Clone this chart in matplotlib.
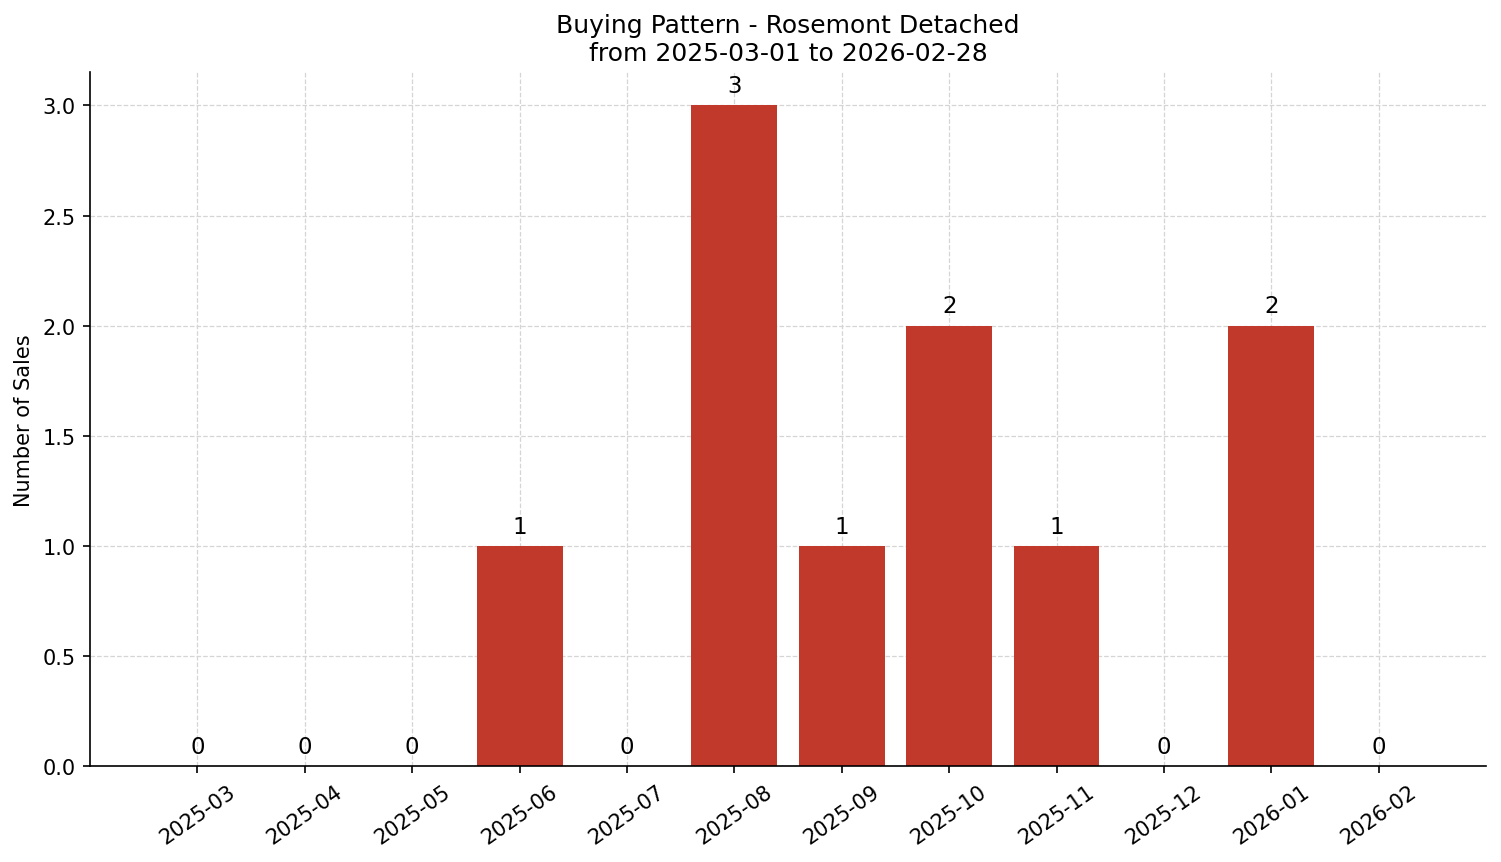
import matplotlib
matplotlib.use("Agg")
import matplotlib.pyplot as plt

months = ["2025-03","2025-04","2025-05","2025-06","2025-07","2025-08",
          "2025-09","2025-10","2025-11","2025-12","2026-01","2026-02"]
sales = [0,0,0,1,0,3,1,2,1,0,2,0]

fig, ax = plt.subplots(figsize=(10.007, 5.753), dpi=150)
fig.subplots_adjust(left=0.06, right=0.99, top=0.915, bottom=0.111)
x = list(range(len(months)))
bars = ax.bar(x, sales, width=0.8, color="#c0392b", zorder=2)
for xi, v in zip(x, sales):
    ax.annotate(str(v), (xi, v), xytext=(0, 4), textcoords="offset points",
                ha="center", va="bottom", fontsize=11)
ax.set_xticks(x)
ax.set_xticklabels(months, rotation=35)
ax.set_xlim(-1, 12)
ax.set_ylim(0, 3.15)
ax.set_ylabel("Number of Sales")
ax.set_title("Buying Pattern - Rosemont Detached\nfrom 2025-03-01 to 2026-02-28", fontsize=12)
ax.grid(True, linestyle="--", linewidth=0.6, color="#d5d5d5", zorder=0)
ax.spines["top"].set_visible(False)
ax.spines["right"].set_visible(False)
fig.savefig("out.png", dpi=150)
